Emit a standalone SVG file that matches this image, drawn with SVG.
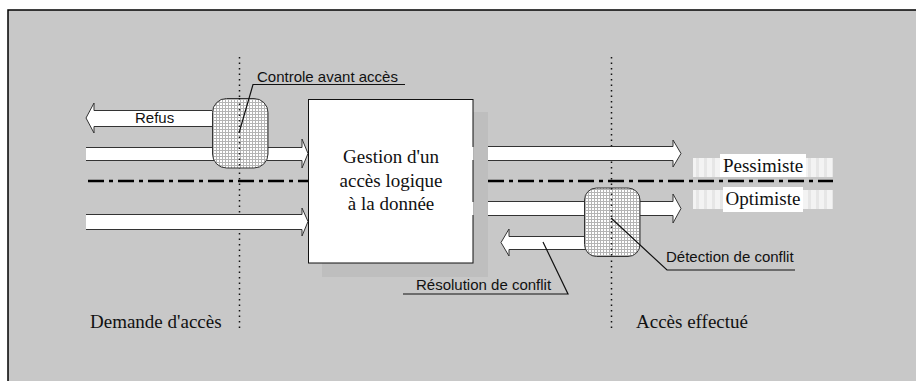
<svg xmlns="http://www.w3.org/2000/svg" width="916" height="381" viewBox="0 0 916 381">
<style>
.serif{font-family:"Liberation Serif","Times New Roman",serif;font-size:19px;fill:#111}
.sans{font-family:"Liberation Sans",Arial,sans-serif;font-size:15px;fill:#111}
.arrow{fill:#fff;stroke:#333;stroke-width:1}
.ctrl{fill:url(#hatch);stroke:#333;stroke-width:1}
.dot{stroke:#111;stroke-width:1.5;stroke-dasharray:1.5 4;fill:none}
.dashdot{stroke:#000;stroke-width:2.5;stroke-dasharray:16 5 4 5;fill:none}
.leader{stroke:#111;stroke-width:1.2;fill:none}
.band{fill:url(#stripes)}
</style>
<defs>
<pattern id="hatch" width="3" height="3" patternUnits="userSpaceOnUse">
<rect width="3" height="3" fill="#fff"/>
<path d="M0,0.5H3M0.5,0V3" stroke="#b4b4b4" stroke-width="1"/>
</pattern>
<pattern id="stripes" width="8" height="10" patternUnits="userSpaceOnUse">
<rect width="8" height="10" fill="#f3f3f3"/>
<rect width="3" height="10" fill="#e6e6e6"/>
</pattern>
</defs>
<rect x="8" y="10" width="908" height="371" fill="#c8c8c8"/>
<path d="M8,381V10H916" stroke="#000" stroke-width="1.5" fill="none"/>

<g id="guides">
<line class="dot" x1="239.5" y1="57" x2="239.5" y2="330"/>
<line class="dot" x1="611.5" y1="57" x2="611.5" y2="330"/>
<line class="dashdot" x1="88" y1="181" x2="308" y2="181"/>
<line class="dashdot" x1="488" y1="181" x2="833" y2="181"/>
</g>

<g id="connectors">
<path class="arrow" d="M86,147.5H302V139L308,153.5L302,168V160.5H86"/>
<path class="arrow" d="M86,214.5H302V208L308,221.5L302,236V229.5H86"/>
<path class="arrow" d="M212,110.5H94V103L86,118L94,133V126.5H212"/>
<path class="arrow" d="M473,146.5H673V140L681,153.5L673,167V160.5H473"/>
<path class="arrow" d="M473,201.5H673V194L681,208.5L673,223V215.5H473"/>
<path class="arrow" d="M590,236.5H509V229L501,242.5L509,256V249.5H590"/>
</g>

<g id="gestion">
<rect x="322" y="112" width="166" height="165" fill="#bebebe"/>
<rect x="308.5" y="99.5" width="164.5" height="163.5" fill="#fff" stroke="#111" stroke-width="1"/>
<path d="M472,147V160M472,202V215" stroke="#fff" stroke-width="3"/>
<text class="serif" x="391" y="163" text-anchor="middle">Gestion d'un</text>
<text class="serif" x="391" y="187" text-anchor="middle">accès logique</text>
<text class="serif" x="391" y="210" text-anchor="middle">à la donnée</text>
</g>

<g id="controle">
<rect class="ctrl" x="212.5" y="98.5" width="55.5" height="69.5" rx="14"/>
<line class="dot" x1="239.5" y1="98" x2="239.5" y2="168"/>
<path class="leader" d="M239,133L253,84.5H405"/>
<text class="sans" x="257" y="82">Controle avant accès</text>
</g>

<g id="detection">
<rect class="ctrl" x="584.5" y="188" width="55.5" height="68.5" rx="12"/>
<line class="dot" x1="611.5" y1="188" x2="611.5" y2="256"/>
<path class="leader" d="M611,218L667,270H795"/>
<text class="sans" x="666" y="262">Détection de conflit</text>
</g>

<g id="refus">
<text class="sans" x="135" y="123">Refus</text>
</g>

<g id="resolution">
<path class="leader" d="M543,242L568,294H403"/>
<text class="sans" x="416" y="290">Résolution de conflit</text>
</g>

<g id="pessimiste">
<rect class="band" x="693" y="158" width="140" height="19"/>
<rect x="720" y="154" width="86" height="23" fill="#fff"/>
<text class="serif" x="763" y="172" text-anchor="middle">Pessimiste</text>
</g>

<g id="optimiste">
<rect class="band" x="693" y="190" width="140" height="19"/>
<rect x="723" y="187" width="80" height="25" fill="#fff"/>
<text class="serif" x="763" y="205" text-anchor="middle">Optimiste</text>
</g>

<g id="demande">
<text class="serif" x="90" y="328">Demande d'accès</text>
</g>
<g id="acces">
<text class="serif" x="636" y="328">Accès effectué</text>
</g>
</svg>
